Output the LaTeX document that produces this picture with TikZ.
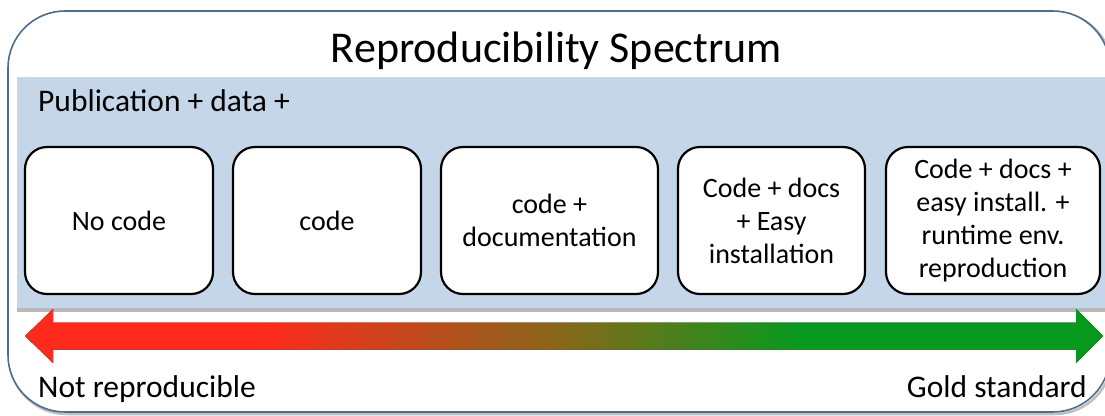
\documentclass[tikz,border=0pt]{standalone}
\usepackage{fontspec}
\setmainfont{Carlito}
\definecolor{band}{HTML}{C5D6E8}
\definecolor{framecol}{HTML}{4E6C8C}
\definecolor{arrred}{HTML}{FF2A1E}
\definecolor{arrmid}{HTML}{86681A}
\definecolor{arrgreen}{HTML}{079A1E}
\pgfdeclarehorizontalshading{spectrum}{100bp}{color(0bp)=(arrred); color(36bp)=(arrred); color(50bp)=(arrmid); color(61bp)=(arrgreen); color(100bp)=(arrgreen)}
\begin{document}
\begin{tikzpicture}[x=1pt,y=-1pt,
  stagebox/.style={draw=black, line width=2.2pt, fill=white, rounded corners=22pt,
    align=center, minimum height=147pt, inner sep=0pt,
    font=\fontsize{28}{33}\selectfont},
  lbl/.style={font=\fontsize{31.5}{37}\selectfont, inner sep=0pt},
  titlefont/.style={font=\fontsize{44}{52}\selectfont, inner sep=0pt}]
\clip (0,0) rectangle (1105,415);
% outer frame
\draw[black!25, line width=2.5pt, rounded corners=57pt] (9.5,12.5) rectangle (1112,414);
\draw[framecol, line width=1.6pt, rounded corners=57pt, fill=white] (8,11) rectangle (1110,412);
% band
\fill[black!28] (17,79) rectangle (1110,311.5);
\fill[band] (17,77) rectangle (1110,308);
% title
\node[titlefont, anchor=base] (title) at (556.5,62) {Reproducibility Spectrum};
\node[lbl, anchor=base west] (pub) at (38,111) {Publication + data +};
% stages
\node[stagebox, minimum width=188pt] (s1) at (119,220.5) {No code};
\node[stagebox, minimum width=188pt] (s2) at (327,220.5) {code};
\node[stagebox, minimum width=217pt] (s3) at (549.5,220.5) {code +\\documentation};
\node[stagebox, minimum width=187pt] (s4) at (771.5,220.5) {Code + docs\\+ Easy\\installation};
\node[stagebox, minimum width=214pt] (s5) at (993,220.5) {Code + docs +\\easy install. +\\runtime env.\\reproduction};
% spectrum arrow
\coordinate (aL) at (25,336);
\coordinate (aR) at (1103,336);
\fill[shading=spectrum] (aL) -- (53,309) -- (53,322.5) -- (1076,322.5) -- (1076,309)
  -- (aR) -- (1076,363) -- (1076,349.5) -- (53,349.5) -- (53,363) -- cycle;
\node[lbl, anchor=base west] (notrep) at (38,397) {Not reproducible};
\node[lbl, anchor=base east] (gold) at (1087,397) {Gold standard};
\end{tikzpicture}
\end{document}
